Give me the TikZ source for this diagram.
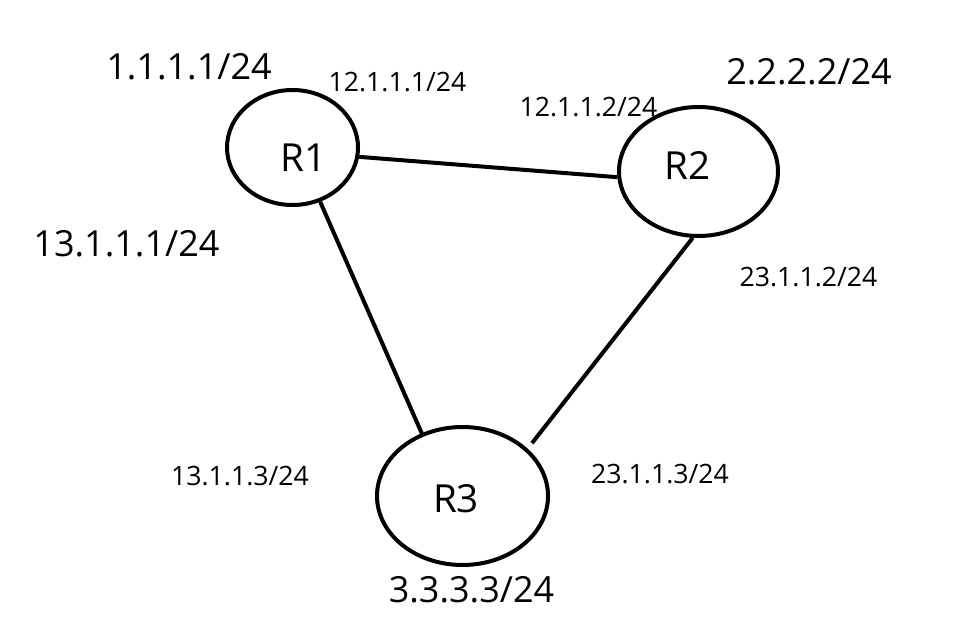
\documentclass[tikz,border=0pt]{standalone}
\usepackage{fontspec}
\setmainfont{Open Sans}
\usetikzlibrary{shapes.geometric}
% one screen pixel
\newdimen\pxu \pxu=0.75pt
\begin{document}
\begin{tikzpicture}[x=0.75pt,y=-0.75pt,
  router/.style={draw, ellipse, line width=4\pxu, inner sep=0pt},
  link/.style={line width=4\pxu},
  rname/.style={inner sep=0pt, anchor=base, font=\fontsize{29}{34}\selectfont},
  bigaddr/.style={inner sep=0pt, anchor=base, font=\fontsize{27}{32}\selectfont},
  smalladdr/.style={inner sep=0pt, anchor=base, font=\fontsize{20}{24}\selectfont}]
\fill[white] (0,0) rectangle (955,630);
\useasboundingbox (0,0) rectangle (955,630);

% routers
\node[router, minimum width=131\pxu, minimum height=115\pxu] (R1) at (292.5,147.5) {};
\node[router, minimum width=159\pxu, minimum height=129\pxu] (R2) at (698.5,171.5) {};
\node[router, minimum width=171\pxu, minimum height=138\pxu] (R3) at (462.5,496) {};

\node[rname] (R1t) at (303.5,172) {R1};
\node[rname] (R2t) at (687.5,180) {R2};
\node[rname] (R3t) at (456,512) {R3};

% links
\draw[link] (R1.-8.8) -- (R2.184);
\draw[link, shorten >=-3\pxu] (R1.-63.6) -- (R3.123);
\draw[link, shorten >=7\pxu] (R2.265.4) -- (R3.36.2);

% loopback addresses
\node[bigaddr] (lo1) at (189,80) {1.1.1.1/24};
\node[bigaddr] (lo2) at (809,85) {2.2.2.2/24};
\node[bigaddr] (lo3) at (471.5,602) {3.3.3.3/24};
\node[bigaddr] (a131) at (126.5,257) {13.1.1.1/24};

% interface addresses
\node[smalladdr] (a121) at (397.5,92) {12.1.1.1/24};
\node[smalladdr] (a122) at (588.5,117) {12.1.1.2/24};
\node[smalladdr] (a232) at (808.5,287) {23.1.1.2/24};
\node[smalladdr] (a133) at (240,485) {13.1.1.3/24};
\node[smalladdr] (a233) at (660,483) {23.1.1.3/24};
\end{tikzpicture}
\end{document}
